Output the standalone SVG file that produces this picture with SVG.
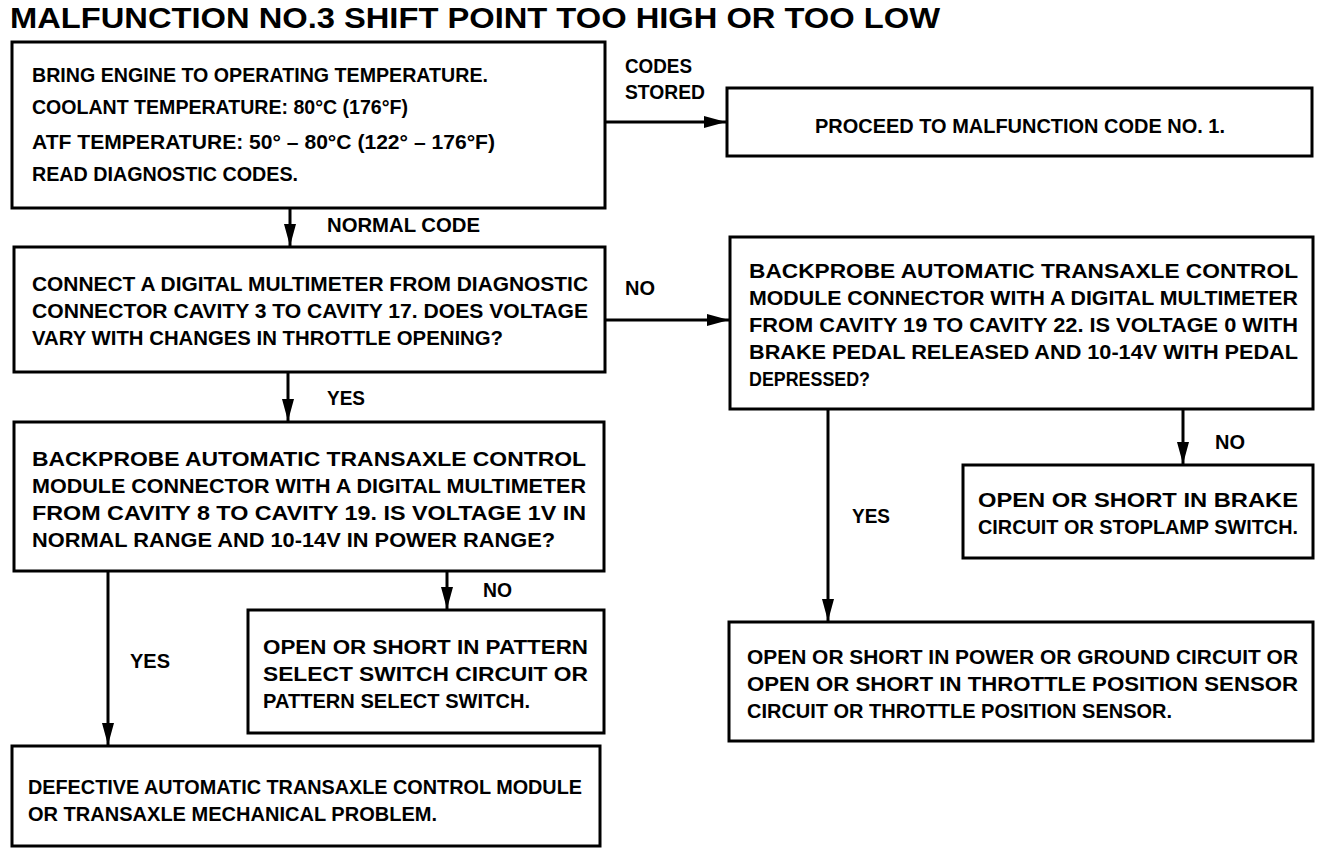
<svg xmlns="http://www.w3.org/2000/svg" width="1328" height="856" viewBox="0 0 1328 856">
<style>
.box{fill:#fff;stroke:#000;stroke-width:3}
.t{font-family:"Liberation Sans Narrow","Liberation Sans",Arial,sans-serif;font-size:21px;font-weight:bold;fill:#000}
.title{font-family:"Liberation Sans",Arial,sans-serif;font-size:29px;font-weight:bold;fill:#000}
.c{fill:none;stroke:#000;stroke-width:3}
</style>
<defs>
<marker id="ah" markerUnits="userSpaceOnUse" markerWidth="24" markerHeight="14" refX="22" refY="7" orient="auto">
<path d="M0,1 L22,7 L0,13 z" fill="#000"/>
</marker>
</defs>
<rect width="1328" height="856" fill="#fff"/>
<text class="title" x="10" y="28" textLength="930" lengthAdjust="spacingAndGlyphs">MALFUNCTION NO.3 SHIFT POINT TOO HIGH OR TOO LOW</text>

<g id="connectors">
<path class="c" d="M605,122 H726" marker-end="url(#ah)"/>
<path class="c" d="M290,208 V246" marker-end="url(#ah)"/>
<path class="c" d="M605,320 H729" marker-end="url(#ah)"/>
<path class="c" d="M288,372 V421" marker-end="url(#ah)"/>
<path class="c" d="M108,571 V745" marker-end="url(#ah)"/>
<path class="c" d="M447,571 V609" marker-end="url(#ah)"/>
<path class="c" d="M828,409 V621" marker-end="url(#ah)"/>
<path class="c" d="M1183,409 V464" marker-end="url(#ah)"/>
<text class="t" x="625" y="73" textLength="67" lengthAdjust="spacingAndGlyphs">CODES</text>
<text class="t" x="625" y="99" textLength="80" lengthAdjust="spacingAndGlyphs">STORED</text>
<text class="t" x="327" y="232" textLength="153" lengthAdjust="spacingAndGlyphs">NORMAL CODE</text>
<text class="t" x="625" y="295" textLength="30" lengthAdjust="spacingAndGlyphs">NO</text>
<text class="t" x="327" y="405" textLength="38" lengthAdjust="spacingAndGlyphs">YES</text>
<text class="t" x="483" y="597" textLength="29" lengthAdjust="spacingAndGlyphs">NO</text>
<text class="t" x="130" y="668" textLength="40" lengthAdjust="spacingAndGlyphs">YES</text>
<text class="t" x="852" y="523" textLength="38" lengthAdjust="spacingAndGlyphs">YES</text>
<text class="t" x="1215" y="449" textLength="30" lengthAdjust="spacingAndGlyphs">NO</text>
</g>

<g id="n1">
<rect class="box" x="12" y="42" width="593" height="166"/>
<text class="t" x="32" y="82" textLength="456" lengthAdjust="spacingAndGlyphs">BRING ENGINE TO OPERATING TEMPERATURE.</text>
<text class="t" x="32" y="114" textLength="376" lengthAdjust="spacingAndGlyphs">COOLANT TEMPERATURE: 80°C (176°F)</text>
<text class="t" x="32" y="149" textLength="463" lengthAdjust="spacingAndGlyphs">ATF TEMPERATURE: 50° – 80°C (122° – 176°F)</text>
<text class="t" x="32" y="181" textLength="266" lengthAdjust="spacingAndGlyphs">READ DIAGNOSTIC CODES.</text>
</g>

<g id="n2">
<rect class="box" x="727" y="88" width="585" height="68"/>
<text class="t" x="815" y="133" textLength="410" lengthAdjust="spacingAndGlyphs">PROCEED TO MALFUNCTION CODE NO. 1.</text>
</g>

<g id="n3">
<rect class="box" x="14" y="247" width="591" height="125"/>
<text class="t" x="32" y="291" textLength="556" lengthAdjust="spacingAndGlyphs">CONNECT A DIGITAL MULTIMETER FROM DIAGNOSTIC</text>
<text class="t" x="32" y="318" textLength="556" lengthAdjust="spacingAndGlyphs">CONNECTOR CAVITY 3 TO CAVITY 17. DOES VOLTAGE</text>
<text class="t" x="32" y="345" textLength="471" lengthAdjust="spacingAndGlyphs">VARY WITH CHANGES IN THROTTLE OPENING?</text>
</g>

<g id="n4">
<rect class="box" x="730" y="237" width="583" height="172"/>
<text class="t" x="749" y="278" textLength="549" lengthAdjust="spacingAndGlyphs">BACKPROBE AUTOMATIC TRANSAXLE CONTROL</text>
<text class="t" x="749" y="305" textLength="549" lengthAdjust="spacingAndGlyphs">MODULE CONNECTOR WITH A DIGITAL MULTIMETER</text>
<text class="t" x="749" y="332" textLength="549" lengthAdjust="spacingAndGlyphs">FROM CAVITY 19 TO CAVITY 22. IS VOLTAGE 0 WITH</text>
<text class="t" x="749" y="359" textLength="549" lengthAdjust="spacingAndGlyphs">BRAKE PEDAL RELEASED AND 10-14V WITH PEDAL</text>
<text class="t" x="749" y="386" textLength="121" lengthAdjust="spacingAndGlyphs">DEPRESSED?</text>
</g>

<g id="n5">
<rect class="box" x="14" y="422" width="590" height="149"/>
<text class="t" x="32" y="466" textLength="554" lengthAdjust="spacingAndGlyphs">BACKPROBE AUTOMATIC TRANSAXLE CONTROL</text>
<text class="t" x="32" y="493" textLength="554" lengthAdjust="spacingAndGlyphs">MODULE CONNECTOR WITH A DIGITAL MULTIMETER</text>
<text class="t" x="32" y="520" textLength="554" lengthAdjust="spacingAndGlyphs">FROM CAVITY 8 TO CAVITY 19. IS VOLTAGE 1V IN</text>
<text class="t" x="32" y="547" textLength="523" lengthAdjust="spacingAndGlyphs">NORMAL RANGE AND 10-14V IN POWER RANGE?</text>
</g>

<g id="n6">
<rect class="box" x="248" y="610" width="356" height="123"/>
<text class="t" x="263" y="654" textLength="325" lengthAdjust="spacingAndGlyphs">OPEN OR SHORT IN PATTERN</text>
<text class="t" x="263" y="681" textLength="325" lengthAdjust="spacingAndGlyphs">SELECT SWITCH CIRCUIT OR</text>
<text class="t" x="263" y="708" textLength="267" lengthAdjust="spacingAndGlyphs">PATTERN SELECT SWITCH.</text>
</g>

<g id="n7">
<rect class="box" x="12" y="746" width="588" height="100"/>
<text class="t" x="28" y="794" textLength="554" lengthAdjust="spacingAndGlyphs">DEFECTIVE AUTOMATIC TRANSAXLE CONTROL MODULE</text>
<text class="t" x="28" y="821" textLength="409" lengthAdjust="spacingAndGlyphs">OR TRANSAXLE MECHANICAL PROBLEM.</text>
</g>

<g id="n8">
<rect class="box" x="963" y="465" width="350" height="93"/>
<text class="t" x="978" y="507" textLength="320" lengthAdjust="spacingAndGlyphs">OPEN OR SHORT IN BRAKE</text>
<text class="t" x="978" y="534" textLength="320" lengthAdjust="spacingAndGlyphs">CIRCUIT OR STOPLAMP SWITCH.</text>
</g>

<g id="n9">
<rect class="box" x="729" y="622" width="584" height="119"/>
<text class="t" x="747" y="664" textLength="551" lengthAdjust="spacingAndGlyphs">OPEN OR SHORT IN POWER OR GROUND CIRCUIT OR</text>
<text class="t" x="747" y="691" textLength="551" lengthAdjust="spacingAndGlyphs">OPEN OR SHORT IN THROTTLE POSITION SENSOR</text>
<text class="t" x="747" y="718" textLength="425" lengthAdjust="spacingAndGlyphs">CIRCUIT OR THROTTLE POSITION SENSOR.</text>
</g>
</svg>
